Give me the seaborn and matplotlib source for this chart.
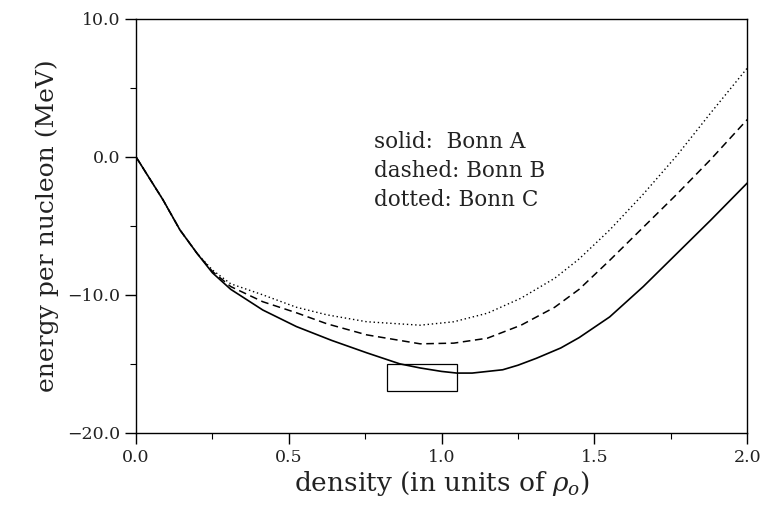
import numpy as np
import pandas as pd
import seaborn as sns
import matplotlib.pyplot as plt
from matplotlib.patches import Rectangle
from matplotlib.ticker import MultipleLocator, FuncFormatter

# density (units of rho_0) and energy per nucleon (MeV)
x_a = [0.0, 0.088, 0.144, 0.2, 0.25, 0.31, 0.415, 0.525, 0.64, 0.755, 0.863, 0.93,
       1.0, 1.05, 1.10, 1.2, 1.25, 1.31, 1.39, 1.45, 1.55, 1.66, 1.77, 1.88, 2.0]
bonn_a = [0.0, -3.1, -5.3, -7.0, -8.4, -9.6, -11.1, -12.3, -13.3, -14.2, -15.0, -15.3,
          -15.55, -15.67, -15.67, -15.43, -15.1, -14.6, -13.85, -13.1, -11.6, -9.4,
          -7.0, -4.6, -1.9]

x_b = [0.0, 0.088, 0.144, 0.2, 0.25, 0.31, 0.415, 0.525, 0.625, 0.755, 0.93, 1.04,
       1.15, 1.26, 1.37, 1.45, 1.55, 1.66, 1.77, 1.88, 2.0]
bonn_b = [0.0, -3.1, -5.3, -7.0, -8.3, -9.4, -10.5, -11.3, -12.1, -12.9, -13.55, -13.5,
          -13.14, -12.2, -10.9, -9.6, -7.5, -5.1, -2.7, -0.2, 2.7]

x_c = [0.0, 0.088, 0.144, 0.2, 0.25, 0.31, 0.415, 0.525, 0.625, 0.755, 0.93, 1.04,
       1.15, 1.26, 1.37, 1.45, 1.55, 1.66, 1.77, 1.88, 2.0]
bonn_c = [0.0, -3.1, -5.3, -7.0, -8.2, -9.2, -10.0, -10.9, -11.45, -11.95, -12.2, -11.95,
          -11.33, -10.24, -8.8, -7.4, -5.3, -2.7, 0.1, 3.17, 6.43]

# empirical saturation box
box_x = [0.82, 1.05]
box_y = [-17.0, -15.0]

labels = ["solid:  Bonn A", "dashed: Bonn B", "dotted: Bonn C"]

sns.set_theme(style="ticks")
plt.rcParams['font.family'] = ['DejaVu Serif']
plt.rcParams['mathtext.fontset'] = 'dejavuserif'

fig = plt.figure(figsize=(7.64, 5.11), dpi=100)
ax = fig.add_axes([0.178, 0.153, 0.8, 0.81])

sns.lineplot(x=x_a, y=bonn_a, ax=ax, color='black', lw=1.2, sort=False)
sns.lineplot(x=x_b, y=bonn_b, ax=ax, color='black', lw=1.1, sort=False,
             linestyle=(0, (5, 3)))
sns.lineplot(x=x_c, y=bonn_c, ax=ax, color='black', lw=1.0, sort=False,
             linestyle=(0, (1, 2)))

ax.add_patch(Rectangle((box_x[0], box_y[0]), box_x[1] - box_x[0], box_y[1] - box_y[0],
                       fill=False, edgecolor='black', lw=0.9))

for i, t in enumerate(labels):
    ax.text(0.78, 1.1 - 2.1 * i, t, fontsize=15.5, va='center', ha='left',
            color='#222222')

fmt = FuncFormatter(lambda v, pos: f"{v:.1f}".replace('-', '\u2212'))

ax.set_xlim(0, 2)
ax.set_ylim(-20, 10)
ax.xaxis.set_major_locator(MultipleLocator(0.5))
ax.xaxis.set_minor_locator(MultipleLocator(0.25))
ax.yaxis.set_major_locator(MultipleLocator(10))
ax.yaxis.set_minor_locator(MultipleLocator(5))
ax.xaxis.set_major_formatter(fmt)
ax.yaxis.set_major_formatter(fmt)
ax.tick_params(which='major', direction='out', length=8, width=1, labelsize=12.5,
               color='black', labelcolor='#222222')
ax.tick_params(which='minor', direction='out', length=4, width=0.8, color='black')
for s in ax.spines.values():
    s.set_color('black')
    s.set_linewidth(1.0)

ax.set_xlabel(r'density (in units of $\rho_o$)', fontsize=19, labelpad=2,
              color='#222222')
ax.set_ylabel('energy per nucleon (MeV)', fontsize=18, labelpad=6,
              color='#222222')

fig.savefig('out.png', dpi=100)
